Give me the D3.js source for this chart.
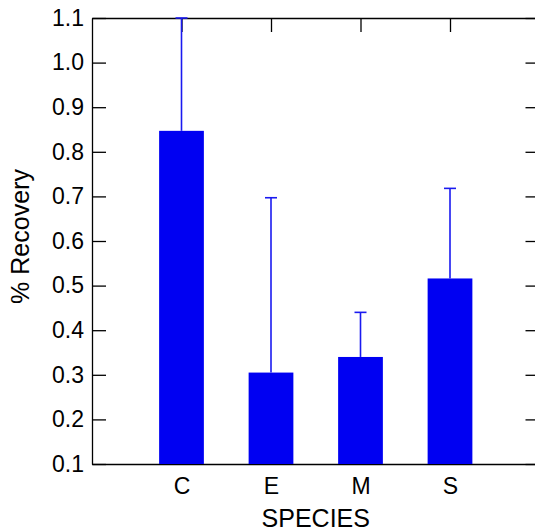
<!DOCTYPE html>
<html lang="en">
<head>
<meta charset="UTF-8">
<title>% Recovery by species</title>
<script src="https://d3js.org/d3.v7.min.js"></script>
<style>
  body { margin: 0; background: #fff; }
  svg { display: block; font-family: "Liberation Sans", Arial, sans-serif; }
  .axis path, .axis line { stroke: #000; stroke-width: 1.3; }
  .axis text { font-size: 23px; fill: #000; font-family: "Liberation Sans", Arial, sans-serif; }
</style>
</head>
<body>
<div id="chart"></div>
<script>
// data
const species = ["C", "E", "M", "S"];
const recovery = [0.847, 0.305, 0.340, 0.516];
const errorTop = [1.1, 0.697, 0.44, 0.718];
const yTicks = [0.1, 0.2, 0.3, 0.4, 0.5, 0.6, 0.7, 0.8, 0.9, 1.0, 1.1];

const W = 535, H = 531;
const plotLeft = 92, plotTop = 18, plotRight = 539.5, plotBottom = 464;

const svg = d3.select("#chart").append("svg")
    .attr("width", W)
    .attr("height", H);

// categories sit at 1..4 on a 0..5 axis
const x = d3.scaleLinear().domain([0, 5]).range([plotLeft, plotRight]);
const y = d3.scaleLinear().domain([0.1, 1.1]).range([plotBottom, plotTop]);
const xPos = species.map((d, i) => i + 1);

// axes, ticks pointing inward
svg.append("g").attr("class", "axis")
    .attr("transform", `translate(${plotLeft},0)`)
    .call(d3.axisLeft(y).tickValues(yTicks).tickFormat(d3.format(".1f"))
        .tickSize(-14).tickSizeOuter(0).tickPadding(8));

svg.append("g").attr("class", "axis")
    .attr("transform", `translate(${plotRight},0)`)
    .call(d3.axisRight(y).tickValues(yTicks).tickFormat("")
        .tickSize(-14).tickSizeOuter(0));

svg.append("g").attr("class", "axis")
    .attr("transform", `translate(0,${plotTop})`)
    .call(d3.axisTop(x).tickValues(xPos).tickFormat("")
        .tickSize(-14).tickSizeOuter(0));

svg.append("g").attr("class", "axis")
    .attr("transform", `translate(0,${plotBottom})`)
    .call(d3.axisBottom(x).tickValues(xPos).tickFormat((d, i) => species[i])
        .tickSize(-14).tickSizeOuter(0).tickPadding(14));

// bars
const barW = x(0.5) - x(0);
svg.selectAll("rect.bar")
    .data(recovery)
    .enter()
    .append("rect")
    .attr("class", "bar")
    .attr("x", (d, i) => x(xPos[i]) - barW / 2)
    .attr("y", d => y(d))
    .attr("width", barW)
    .attr("height", d => y(0.1) - y(d))
    .attr("fill", "#0000f2");

// upper error bars
const capW = 12;
const err = svg.append("g").attr("stroke", "#1a1af0").attr("stroke-width", 1.6);
err.selectAll("line.stem")
    .data(errorTop)
    .enter()
    .append("line")
    .attr("x1", (d, i) => x(xPos[i]))
    .attr("x2", (d, i) => x(xPos[i]))
    .attr("y1", (d, i) => y(recovery[i]))
    .attr("y2", d => y(d));
err.selectAll("line.cap")
    .data(errorTop)
    .enter()
    .append("line")
    .attr("x1", (d, i) => x(xPos[i]) - capW / 2)
    .attr("x2", (d, i) => x(xPos[i]) + capW / 2)
    .attr("y1", d => y(d))
    .attr("y2", d => y(d));

// axis titles
svg.append("text")
    .attr("x", (plotLeft + plotRight) / 2)
    .attr("y", 527)
    .attr("text-anchor", "middle")
    .style("font-size", "25px")
    .text("SPECIES");

svg.append("text")
    .attr("transform", "translate(28.5,236.5) rotate(-90)")
    .attr("text-anchor", "middle")
    .style("font-size", "25px")
    .text("% Recovery");
</script>
</body>
</html>
